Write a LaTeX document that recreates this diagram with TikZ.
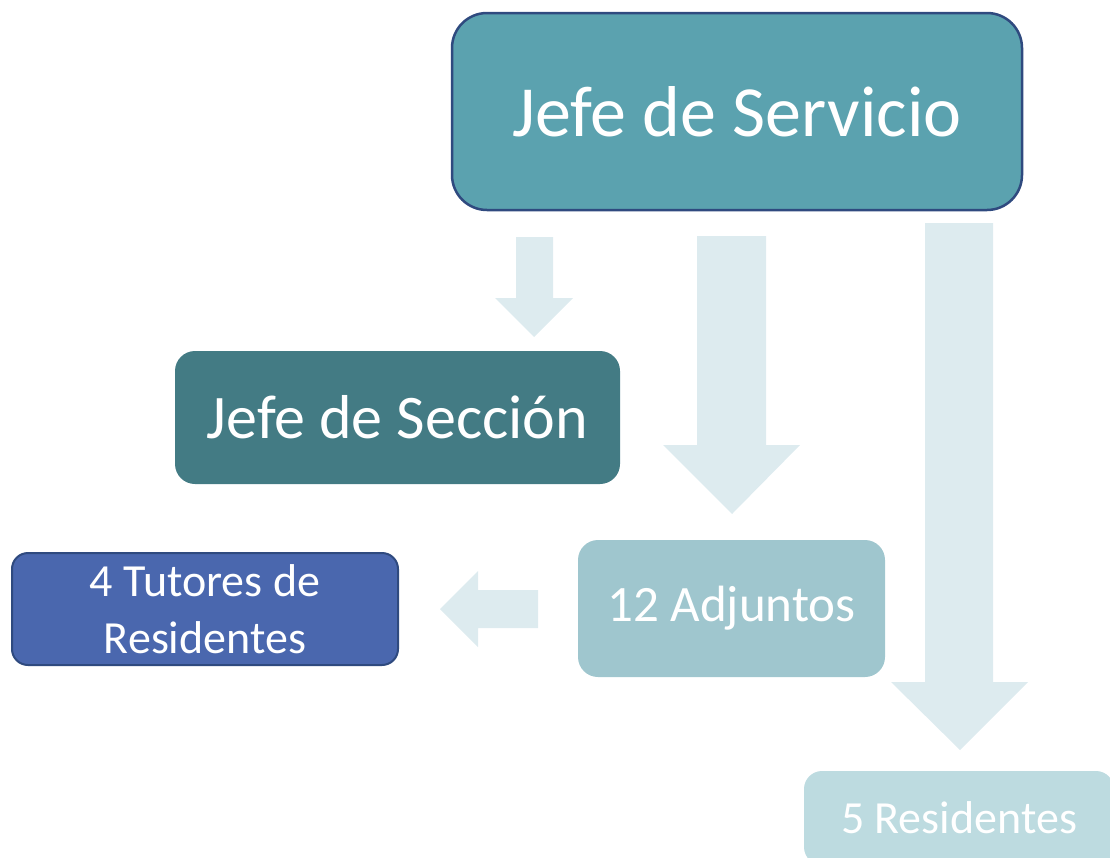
\documentclass[tikz,border=0pt]{standalone}
\usepackage{fontspec}
\setmainfont{Carlito}
\definecolor{servicio}{HTML}{5BA2AF}
\definecolor{seccion}{HTML}{437B84}
\definecolor{adjuntos}{HTML}{9FC6CE}
\definecolor{tutores}{HTML}{4A67AE}
\definecolor{residentes}{HTML}{BDDBE0}
\definecolor{borde}{HTML}{2F4A7F}
\definecolor{flecha}{HTML}{DDEBEF}
\begin{document}
\begin{tikzpicture}[x=1pt,y=-1pt,
  box/.style={rounded corners=#1, text=white, align=center, inner sep=0pt},
  arrowshape/.style={fill=flecha, draw=none}]
\useasboundingbox (0,0) rectangle (1110,857);
\clip (0,0) rectangle (1110,857);
% block arrows
\fill[arrowshape] (516,237) -- (553,237) -- (553,298) -- (573,298) -- (534,337) -- (495,298) -- (516,298) -- cycle;
\fill[arrowshape] (697,236) -- (766,236) -- (766,445) -- (800,445) -- (732,514) -- (663,445) -- (697,445) -- cycle;
\fill[arrowshape] (925,223) -- (993,223) -- (993,682) -- (1028,682) -- (960,750) -- (891,682) -- (925,682) -- cycle;
\fill[arrowshape] (538,590) -- (478,590) -- (478,571) -- (440,609) -- (478,647) -- (478,628) -- (538,628) -- cycle;
% boxes
\node[box=35pt, fill=servicio, draw=borde, line width=2.5pt,
  minimum width=570pt, minimum height=197pt,
  font=\fontsize{72}{86}\selectfont] (servicio) at (737,111.5) {Jefe de Servicio};
\node[box=20pt, fill=seccion, minimum width=445pt, minimum height=133pt,
  font=\fontsize{62}{74}\selectfont] (seccion) at (397.5,417.5) {Jefe de Sección};
\node[box=20pt, fill=adjuntos, minimum width=307pt, minimum height=137pt,
  font=\fontsize{51}{61}\selectfont] (adjuntos) at (731.5,608.5) {12 Adjuntos};
\node[box=16pt, fill=tutores, draw=borde, line width=2pt,
  minimum width=386pt, minimum height=112pt,
  font=\fontsize{46}{57}\selectfont] (tutores) at (205,609) {4 Tutores de\\Residentes};
\node[box=18pt, fill=residentes, minimum width=310pt, minimum height=94pt,
  font=\fontsize{46}{55}\selectfont] (residentes) at (959,818) {5 Residentes};
\end{tikzpicture}
\end{document}
